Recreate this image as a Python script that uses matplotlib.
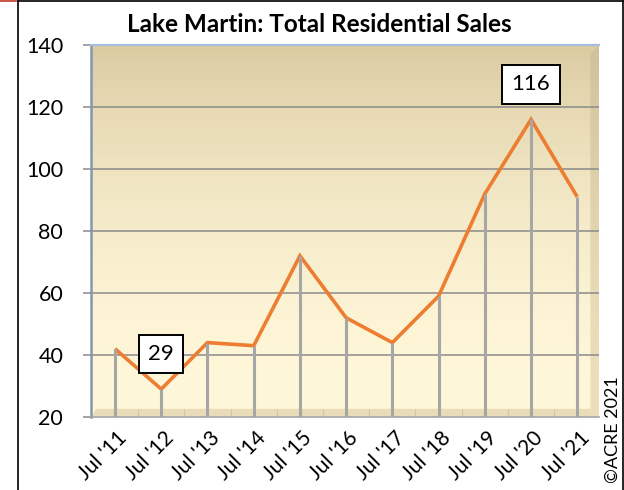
import matplotlib
matplotlib.use('Agg')
import matplotlib.pyplot as plt
import numpy as np
from matplotlib.patches import Polygon
from matplotlib.lines import Line2D
import matplotlib.transforms as mtransforms
from matplotlib.colors import to_rgb

# ---- data ----
categories = ["Jul '11", "Jul '12", "Jul '13", "Jul '14", "Jul '15", "Jul '16",
              "Jul '17", "Jul '18", "Jul '19", "Jul '20", "Jul '21"]
sales = [42, 29, 44, 43, 72, 52, 44, 59, 92, 116, 91]
y_ticks = [20, 40, 60, 80, 100, 120, 140]
title = "Lake Martin: Total Residential Sales"
callout_idx = [1, 9]
copyright_text = "\u00a9ACRE 2021"

plt.rcParams['font.family'] = ['Lato', 'DejaVu Sans']

W, H = 624, 490
fig = plt.figure(figsize=(W / 100, H / 100), dpi=100)
fig.patch.set_facecolor('white')
ax = fig.add_axes([91 / W, (H - 417) / H, (599 - 91) / W, (417 - 45) / H])
x = np.arange(len(categories))

# ---- background wall gradient ----
t = np.linspace(0, 1, 256)[:, None]
top_c = np.array(to_rgb('#DBCBA1'))
bot_c = np.array(to_rgb('#FFF7D9'))
w = t ** 2.0
grad = bot_c[None, None, :] + (top_c - bot_c)[None, None, :] * w[..., None]
ax.imshow(grad, extent=[0, 1, 0, 1], transform=ax.transAxes, origin='lower',
          aspect='auto', zorder=0, interpolation='bilinear')

# right side wall (3D bevel)
side_top = np.array(to_rgb('#D0C19B'))
side_bot = np.array(to_rgb('#EEDFBC'))
sgrad = side_bot[None, None, :] + (side_top - side_bot)[None, None, :] * (t ** 1.6)[..., None]
side_poly = Polygon([(0.983, 0.022), (1, 0), (1, 1), (0.983, 0.975)], closed=True,
                    transform=ax.transAxes, fc='none', ec='none')
ax.add_patch(side_poly)
im2 = ax.imshow(sgrad, extent=[0.98, 1, 0, 1], transform=ax.transAxes, origin='lower',
                aspect='auto', zorder=0.5, interpolation='bilinear')
im2.set_clip_path(side_poly)

# floor
floor = Polygon([(0, 0), (1, 0), (0.983, 0.022), (0.01, 0.022)], closed=True,
                transform=ax.transAxes, fc='#EADCB8', ec='none', zorder=0.6)
ax.add_patch(floor)
ax.vlines(x[:-1] + 0.5, 0, 0.022, color='#D2C6A8', lw=0.9, zorder=0.7,
          transform=ax.get_xaxis_transform())

ax.set_xlim(-0.52, 10.47)
ax.set_ylim(20, 140)

# gridlines
ax.set_yticks(y_ticks)
ax.grid(axis='y', color='#8A8A8A', lw=1.1, zorder=1)
ax.set_axisbelow(True)

# series
ax.plot(x, sales, color='#ED7D31', lw=2.6, zorder=3, solid_joinstyle='miter',
        solid_capstyle='butt')
ax.vlines(x, 20, sales, color='#A6A6A6', lw=2.2, zorder=4)

# callouts
for i in callout_idx:
    yv = sales[i]
    ax.text(x[i], yv + 11.3, f"{yv}", ha='center', va='center', fontsize=16, zorder=6,
            bbox=dict(boxstyle='square,pad=0.42', fc='white', ec='black', lw=1.4))

# spines
ax.spines['right'].set_visible(False)
ax.spines['left'].set_color('#8496B0')
ax.spines['left'].set_linewidth(1.8)
ax.spines['top'].set_color('#A9BDE3')
ax.spines['top'].set_linewidth(1.6)
ax.spines['bottom'].set_color('#A6A6A6')
ax.spines['bottom'].set_linewidth(1.2)

# ticks
ax.set_xticks(x)
ax.set_xticklabels(categories, rotation=45, ha='right', va='top',
                   rotation_mode='anchor', fontsize=15)
ax.tick_params(axis='x', length=0, pad=8)
offset = mtransforms.ScaledTranslation(2 / 100, 0, fig.dpi_scale_trans)
for lab in ax.get_xticklabels():
    lab.set_transform(lab.get_transform() + offset)
ax.tick_params(axis='y', length=6, width=1.1, color='#8A8A8A', pad=14, labelsize=15.5)

# title & copyright
fig.text(319 / W, 1 - 24 / H, title, ha='center', va='center', fontsize=17.5,
         fontweight='bold')
fig.text(613 / W, 1 - 430 / H, copyright_text, rotation=90, ha='center', va='center',
         fontsize=13)

# outer frame
fig.add_artist(Line2D([17.5 / W, 17.5 / W], [0, 1 - 1 / H], color='black', lw=1.2,
                      transform=fig.transFigure))
fig.add_artist(Line2D([17.5 / W, 622.5 / W], [1 - 1.5 / H, 1 - 1.5 / H], color='black',
                      lw=1.2, transform=fig.transFigure))
fig.add_artist(Line2D([622.5 / W, 622.5 / W], [0, 1 - 1 / H], color='black', lw=1.2,
                      transform=fig.transFigure))
fig.add_artist(Line2D([0, 16 / W], [1 - 0.7 / H, 1 - 0.7 / H], color='#C0392B', lw=1.2,
                      transform=fig.transFigure))

fig.savefig('out.png', dpi=100)
